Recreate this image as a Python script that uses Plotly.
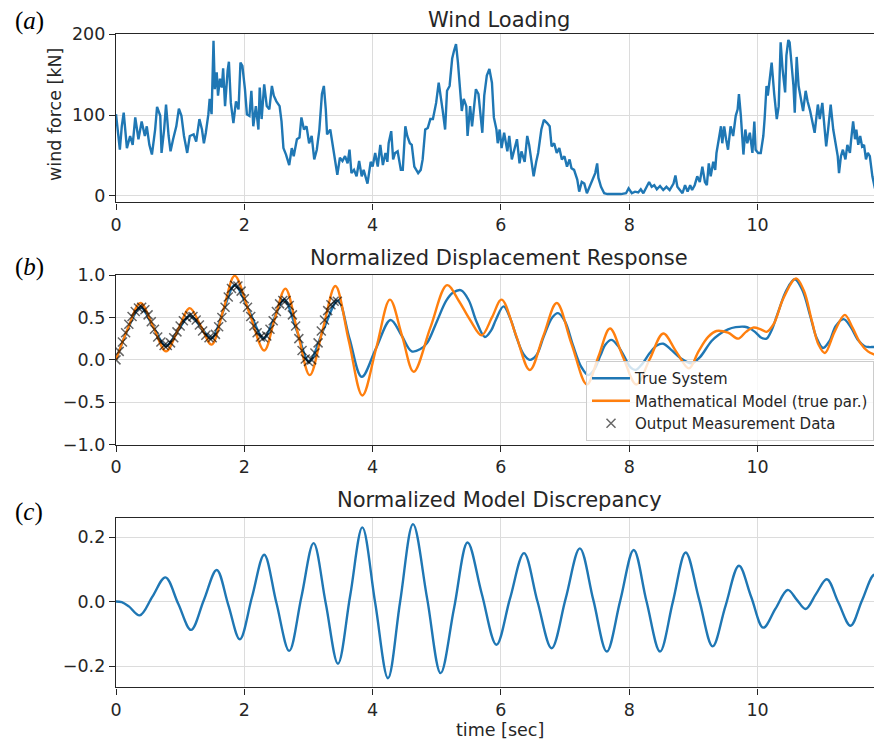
import plotly.graph_objects as go

# ---------------- data ----------------
wind_t = [0.00, 0.06, 0.09, 0.12, 0.17, 0.22, 0.26, 0.30, 0.35, 0.40, 0.45, 0.48, 0.52, 0.56, 0.61, 0.64,
          0.69, 0.71, 0.75, 0.78, 0.82, 0.85, 0.89, 0.94, 0.98, 1.02, 1.06, 1.11, 1.15, 1.21, 1.25, 1.30,
          1.34, 1.37, 1.40, 1.44, 1.46, 1.49, 1.52, 1.54, 1.57, 1.59, 1.62, 1.65, 1.67, 1.70, 1.74, 1.76,
          1.79, 1.83, 1.87, 1.91, 1.94, 1.97, 2.01, 2.04, 2.08, 2.11, 2.14, 2.18, 2.22, 2.24, 2.27, 2.31,
          2.35, 2.39, 2.43, 2.46, 2.50, 2.55, 2.58, 2.61, 2.65, 2.70, 2.74, 2.77, 2.82, 2.86, 2.89, 2.93,
          2.97, 3.01, 3.05, 3.09, 3.13, 3.17, 3.21, 3.24, 3.27, 3.29, 3.34, 3.38, 3.41, 3.45, 3.49, 3.53,
          3.57, 3.61, 3.64, 3.67, 3.71, 3.75, 3.79, 3.83, 3.86, 3.92, 3.97, 4.00, 4.04, 4.08, 4.12, 4.16,
          4.20, 4.23, 4.25, 4.29, 4.32, 4.35, 4.39, 4.44, 4.47, 4.51, 4.54, 4.58, 4.61, 4.65, 4.71, 4.75,
          4.78, 4.82, 4.86, 4.90, 4.94, 4.97, 4.99, 5.03, 5.06, 5.09, 5.13, 5.16, 5.20, 5.24, 5.27, 5.30,
          5.33, 5.36, 5.39, 5.42, 5.46, 5.48, 5.52, 5.55, 5.58, 5.61, 5.65, 5.68, 5.71, 5.74, 5.78, 5.82,
          5.86, 5.89, 5.93, 5.95, 5.98, 6.01, 6.05, 6.10, 6.13, 6.17, 6.21, 6.25, 6.29, 6.32, 6.37, 6.41,
          6.44, 6.48, 6.51, 6.55, 6.58, 6.63, 6.67, 6.72, 6.76, 6.79, 6.83, 6.87, 6.91, 6.95, 6.99, 7.03,
          7.07, 7.10, 7.14, 7.19, 7.22, 7.26, 7.30, 7.34, 7.38, 7.43, 7.47, 7.50, 7.52, 7.56, 7.61, 7.66,
          7.77, 7.87, 7.95, 7.99, 8.04, 8.09, 8.14, 8.18, 8.22, 8.27, 8.31, 8.35, 8.39, 8.43, 8.48, 8.53,
          8.58, 8.63, 8.69, 8.72, 8.75, 8.79, 8.83, 8.87, 8.91, 8.95, 8.98, 9.02, 9.06, 9.10, 9.14, 9.18,
          9.21, 9.24, 9.27, 9.31, 9.34, 9.36, 9.40, 9.43, 9.45, 9.48, 9.51, 9.54, 9.58, 9.62, 9.66, 9.69,
          9.71, 9.74, 9.78, 9.81, 9.84, 9.88, 9.92, 9.95, 9.97, 10.01, 10.05, 10.09, 10.11, 10.14, 10.16, 10.19,
          10.22, 10.26, 10.30, 10.33, 10.36, 10.39, 10.43, 10.45, 10.48, 10.50, 10.53, 10.56, 10.58, 10.61, 10.64, 10.68,
          10.71, 10.75, 10.78, 10.82, 10.85, 10.89, 10.94, 10.97, 11.01, 11.04, 11.07, 11.10, 11.14, 11.18, 11.22, 11.25,
          11.27, 11.30, 11.33, 11.37, 11.40, 11.44, 11.46, 11.49, 11.52, 11.54, 11.57, 11.60, 11.63, 11.66, 11.69, 11.72,
          11.75, 11.79, 11.83, 11.87, 11.90, 11.94]
wind_force = [101, 57, 86, 103, 59, 74, 63, 97, 70, 92, 74, 86, 63, 51, 82, 110,
              99, 53, 82, 113, 74, 55, 70, 86, 108, 99, 74, 53, 74, 76, 67, 95,
              82, 65, 78, 101, 120, 101, 192, 132, 153, 124, 145, 134, 158, 111, 155, 166,
              115, 90, 117, 107, 165, 161, 132, 101, 99, 130, 86, 111, 82, 134, 95, 138,
              111, 107, 136, 124, 117, 111, 92, 59, 51, 38, 59, 49, 70, 72, 97, 82,
              86, 65, 74, 45, 57, 82, 126, 136, 107, 76, 82, 63, 49, 26, 47, 43,
              49, 40, 57, 28, 32, 24, 43, 24, 32, 15, 42, 36, 53, 36, 63, 38,
              53, 42, 65, 80, 45, 53, 55, 32, 32, 86, 74, 65, 63, 36, 28, 32,
              45, 82, 84, 95, 95, 107, 115, 140, 120, 107, 82, 130, 136, 170, 180, 188,
              165, 136, 105, 120, 111, 74, 111, 86, 111, 132, 126, 97, 78, 124, 149, 157,
              140, 97, 82, 65, 82, 59, 78, 55, 74, 45, 57, 70, 40, 55, 42, 74,
              63, 40, 24, 42, 53, 82, 94, 90, 86, 61, 65, 53, 59, 45, 49, 36,
              45, 34, 32, 20, 5, 17, 15, 3, 11, 20, 28, 40, 22, 11, 3, 2,
              2, 2, 3, 9, 3, 5, 4, 8, 3, 11, 17, 11, 13, 8, 12, 7,
              11, 7, 15, 25, 11, 7, 3, 13, 5, 13, 7, 13, 24, 17, 36, 17,
              13, 40, 24, 42, 32, 53, 70, 86, 65, 86, 70, 57, 86, 74, 99, 107,
              126, 99, 51, 82, 65, 78, 53, 92, 57, 53, 53, 74, 95, 136, 124, 145,
              165, 126, 95, 111, 190, 157, 128, 174, 193, 190, 161, 136, 103, 172, 136, 117,
              105, 130, 117, 105, 95, 78, 113, 95, 115, 92, 61, 82, 113, 82, 65, 49,
              28, 49, 57, 45, 63, 53, 70, 92, 70, 82, 63, 74, 61, 63, 45, 53,
              49, 24, 9, 13, 17, 24]

true_t = [0.00, 0.19, 0.38, 0.58, 0.78, 0.97, 1.15, 1.32, 1.49, 1.67, 1.85, 2.08, 2.30, 2.46, 2.62, 2.82,
          3.01, 3.23, 3.46, 3.64, 3.83, 4.05, 4.28, 4.45, 4.61, 4.75, 4.85, 5.00, 5.15, 5.25, 5.38, 5.50,
          5.62, 5.75, 5.85, 5.92, 6.04, 6.15, 6.25, 6.35, 6.45, 6.55, 6.67, 6.80, 6.89, 7.00, 7.12, 7.25,
          7.36, 7.45, 7.55, 7.63, 7.72, 7.82, 7.93, 8.02, 8.10, 8.20, 8.32, 8.43, 8.53, 8.65, 8.80, 8.97,
          9.10, 9.28, 9.40, 9.54, 9.66, 9.80, 9.88, 9.96, 10.06, 10.14, 10.22, 10.32, 10.45, 10.58, 10.70, 10.82,
          10.92, 11.02, 11.12, 11.22, 11.34, 11.45, 11.57, 11.67, 11.75, 11.83, 11.94]
true_y = [0.00, 0.37, 0.62, 0.39, 0.165, 0.35, 0.52, 0.39, 0.255, 0.57, 0.88, 0.57, 0.255, 0.48, 0.71, 0.34,
          -0.02, 0.35, 0.70, 0.25, -0.20, 0.13, 0.47, 0.29, 0.10, 0.13, 0.20, 0.45, 0.70, 0.79, 0.82, 0.70,
          0.45, 0.27, 0.35, 0.47, 0.63, 0.48, 0.25, 0.07, 0.00, 0.05, 0.28, 0.50, 0.55, 0.45, 0.18, -0.08,
          -0.18, -0.12, 0.05, 0.18, 0.235, 0.17, 0.03, -0.09, -0.12, -0.05, 0.08, 0.17, 0.19, 0.12, 0.02, -0.04,
          0.03, 0.22, 0.30, 0.36, 0.385, 0.39, 0.37, 0.33, 0.26, 0.25, 0.35, 0.56, 0.82, 0.95, 0.82, 0.52,
          0.26, 0.14, 0.22, 0.40, 0.48, 0.39, 0.23, 0.16, 0.15, 0.15, 0.10]

model_t = [0.00, 0.19, 0.38, 0.58, 0.78, 0.97, 1.15, 1.32, 1.49, 1.67, 1.85, 2.08, 2.31, 2.47, 2.64, 2.83,
           3.02, 3.22, 3.42, 3.63, 3.84, 4.06, 4.27, 4.46, 4.64, 4.90, 5.16, 5.34, 5.52, 5.70, 5.86, 6.01,
           6.23, 6.45, 6.66, 6.87, 7.10, 7.34, 7.52, 7.70, 7.90, 8.11, 8.32, 8.53, 8.73, 8.93, 9.08, 9.23,
           9.36, 9.54, 9.70, 9.82, 9.93, 10.05, 10.14, 10.25, 10.40, 10.60, 10.72, 10.85, 10.95, 11.05, 11.20, 11.36,
           11.48, 11.60, 11.72, 11.83, 11.94]
model_y = [0.00, 0.38, 0.67, 0.39, 0.10, 0.36, 0.61, 0.40, 0.18, 0.58, 0.99, 0.55, 0.11, 0.47, 0.84, 0.33,
           -0.18, 0.35, 0.87, 0.22, -0.42, 0.15, 0.71, 0.28, -0.14, 0.38, 0.88, 0.70, 0.47, 0.29, 0.50, 0.71,
           0.30, -0.12, 0.28, 0.67, 0.19, -0.29, 0.04, 0.37, 0.04, -0.29, 0.01, 0.31, 0.10, -0.10, 0.10, 0.27,
           0.34, 0.32, 0.25, 0.33, 0.38, 0.36, 0.33, 0.42, 0.72, 0.96, 0.82, 0.45, 0.18, 0.08, 0.33, 0.53,
           0.38, 0.20, 0.10, 0.06, 0.03]

meas_t = [0.00, 0.05, 0.10, 0.15, 0.20, 0.25, 0.30, 0.35, 0.40, 0.45, 0.50, 0.55, 0.60, 0.65, 0.70, 0.75,
          0.80, 0.85, 0.90, 0.95, 1.00, 1.05, 1.10, 1.15, 1.20, 1.25, 1.30, 1.35, 1.40, 1.45, 1.50, 1.55,
          1.60, 1.65, 1.70, 1.75, 1.80, 1.85, 1.90, 1.95, 2.00, 2.05, 2.10, 2.15, 2.20, 2.25, 2.30, 2.35,
          2.40, 2.45, 2.50, 2.55, 2.60, 2.65, 2.70, 2.75, 2.80, 2.85, 2.90, 2.95, 3.00, 3.05, 3.10, 3.15,
          3.20, 3.25, 3.30, 3.35, 3.40, 3.45]
meas_y = [0.00, 0.10, 0.21, 0.32, 0.42, 0.51, 0.57, 0.61, 0.62, 0.59, 0.53, 0.45, 0.36, 0.27, 0.21, 0.17,
          0.17, 0.20, 0.26, 0.33, 0.40, 0.46, 0.50, 0.52, 0.51, 0.47, 0.41, 0.34, 0.29, 0.26, 0.26, 0.30,
          0.39, 0.50, 0.62, 0.74, 0.84, 0.88, 0.87, 0.81, 0.72, 0.62, 0.51, 0.40, 0.32, 0.27, 0.26, 0.28,
          0.36, 0.46, 0.57, 0.66, 0.70, 0.70, 0.64, 0.53, 0.40, 0.25, 0.11, 0.01, -0.02, 0.00, 0.08, 0.20,
          0.34, 0.47, 0.58, 0.65, 0.69, 0.69]

disc_t = [0.00, 0.09, 0.20, 0.37, 0.57, 0.77, 0.97, 1.17, 1.37, 1.57, 1.75, 1.93, 2.12, 2.31, 2.50, 2.70,
          2.89, 3.08, 3.27, 3.46, 3.65, 3.84, 4.04, 4.24, 4.43, 4.63, 4.85, 5.06, 5.27, 5.48, 5.70, 5.93,
          6.14, 6.36, 6.57, 6.79, 7.01, 7.23, 7.44, 7.65, 7.86, 8.07, 8.27, 8.48, 8.68, 8.88, 9.09, 9.30,
          9.50, 9.71, 9.90, 10.09, 10.28, 10.47, 10.61, 10.75, 10.91, 11.08, 11.26, 11.45, 11.63, 11.82, 11.94]
disc_y = [0.000, -0.002, -0.015, -0.043, 0.016, 0.075, -0.007, -0.088, 0.005, 0.098, -0.010, -0.117, 0.014, 0.145, -0.004, -0.153,
          0.014, 0.181, -0.006, -0.193, 0.018, 0.230, -0.004, -0.238, 0.001, 0.240, 0.009, -0.222, -0.020, 0.183, 0.025, -0.134,
          0.008, 0.150, 0.000, -0.145, 0.010, 0.165, 0.005, -0.155, 0.003, 0.160, 0.000, -0.155, -0.001, 0.152, 0.006, -0.139,
          -0.014, 0.111, 0.015, -0.081, -0.022, 0.036, 0.006, -0.023, 0.023, 0.069, -0.003, -0.075, 0.004, 0.083, 0.057]

x_ticks = [0, 2, 4, 6, 8, 10]
wind_ticks = [0, 100, 200]
disp_ticks = [-1.0, -0.5, 0.0, 0.5, 1.0]
disc_ticks = [-0.2, 0.0, 0.2]

# ---------------- layout helpers ----------------
# The page body adds an 8 px offset; every position below is given in page pixels and shifted.
OFF = 8
W, H = 882 - OFF, 742 - OFF
ML = 116 - OFF
PW = W - ML
BLUE, ORANGE = '#1f77b4', '#ff7f0e'
TXT = '#262626'
FONT = 'DejaVu Sans'
TICK_SIZE = 17.5


def ydom(top_px, bottom_px):
    return [1 - (bottom_px - OFF) / H, 1 - (top_px - OFF) / H]


def px_x(px):
    return (px - OFF - ML) / PW


def px_y(py):
    return 1 - (py - OFF) / H


fig = go.Figure()
fig.add_trace(go.Scatter(x=wind_t, y=wind_force, mode='lines', line=dict(color=BLUE, width=2.4),
                         xaxis='x', yaxis='y', showlegend=False))
fig.add_trace(go.Scatter(x=true_t, y=true_y, mode='lines', name='True System',
                         line=dict(color=BLUE, width=2.4, shape='spline', smoothing=1.0),
                         xaxis='x2', yaxis='y2'))
fig.add_trace(go.Scatter(x=model_t, y=model_y, mode='lines', name='Mathematical Model (true par.)',
                         line=dict(color=ORANGE, width=2.4, shape='spline', smoothing=1.0),
                         xaxis='x2', yaxis='y2'))
fig.add_trace(go.Scatter(x=meas_t, y=meas_y, mode='markers', name='Output Measurement Data',
                         marker=dict(symbol='x-thin', size=9, color='rgba(0,0,0,0.6)',
                                     line=dict(width=1.5, color='rgba(0,0,0,0.6)')),
                         xaxis='x2', yaxis='y2'))
fig.add_trace(go.Scatter(x=disc_t, y=disc_y, mode='lines', line=dict(color=BLUE, width=2.4, shape='spline', smoothing=1.0),
                         xaxis='x3', yaxis='y3', showlegend=False))

common_x = dict(range=[0, 11.94], tickvals=x_ticks, showgrid=True, gridcolor='#dcdcdc', gridwidth=1.2,
                showline=True, linecolor=TXT, linewidth=1.4, mirror=True, ticks='outside', ticklen=6,
                tickwidth=1.4, tickcolor=TXT, tickfont=dict(family=FONT, size=TICK_SIZE, color=TXT),
                zeroline=False, domain=[0, 1])
common_y = dict(showgrid=True, gridcolor='#dcdcdc', gridwidth=1.2, showline=True, linecolor=TXT,
                linewidth=1.4, mirror=False, ticks='outside', ticklen=6, tickwidth=1.4, tickcolor=TXT,
                tickfont=dict(family=FONT, size=TICK_SIZE, color=TXT), zeroline=False)

fig.update_layout(
    width=W, height=H, margin=dict(l=ML, r=0, t=0, b=0, autoexpand=False),
    paper_bgcolor='white', plot_bgcolor='white', showlegend=True,
    xaxis=dict(common_x, anchor='y'),
    xaxis2=dict(common_x, anchor='y2'),
    xaxis3=dict(common_x, anchor='y3'),
    yaxis=dict(common_y, domain=ydom(33.7, 202.3), range=[-8.2, 200.8], tickvals=wind_ticks, anchor='x'),
    yaxis2=dict(common_y, domain=ydom(275, 444.7), range=[-1.0, 1.0], tickvals=disp_ticks,
                tickformat='.1f', anchor='x2'),
    yaxis3=dict(common_y, domain=ydom(517.7, 687.3), range=[-0.266, 0.26], tickvals=disc_ticks,
                tickformat='.1f', anchor='x3'),
    legend=dict(x=px_x(586), y=px_y(361), xanchor='left', yanchor='top', itemwidth=38,
                bgcolor='rgba(255,255,255,0.8)', bordercolor='#cccccc', borderwidth=1,
                font=dict(family=FONT, size=15, color=TXT)),
)

annots = [
    dict(text='Wind Loading', x=px_x(499), y=px_y(20.5)),
    dict(text='Normalized Displacement Response', x=px_x(499), y=px_y(258)),
    dict(text='Normalized Model Discrepancy', x=px_x(499), y=px_y(500)),
]
for a in annots:
    fig.add_annotation(xref='paper', yref='paper', xanchor='center', yanchor='middle', showarrow=False,
                       borderpad=0, font=dict(family=FONT, size=21, color=TXT), **a)

for lab, yc in [('a', 21), ('b', 267), ('c', 512)]:
    fig.add_annotation(xref='paper', yref='paper', x=px_x(29), y=px_y(yc), xanchor='center', yanchor='middle',
                       showarrow=False, text='(<i>%s</i>)' % lab,
                       font=dict(family='Liberation Serif', size=25, color='black'))

fig.add_annotation(xref='paper', yref='paper', x=px_x(55), y=px_y(115), xanchor='center', yanchor='middle',
                   showarrow=False, textangle=-90, text='wind force [kN]',
                   font=dict(family=FONT, size=TICK_SIZE, color=TXT))
fig.add_annotation(xref='paper', yref='paper', x=px_x(500), y=px_y(729.5), xanchor='center', yanchor='middle',
                   showarrow=False, borderpad=0, text='time [sec]',
                   font=dict(family=FONT, size=TICK_SIZE, color=TXT))

fig.write_html('out.html')
